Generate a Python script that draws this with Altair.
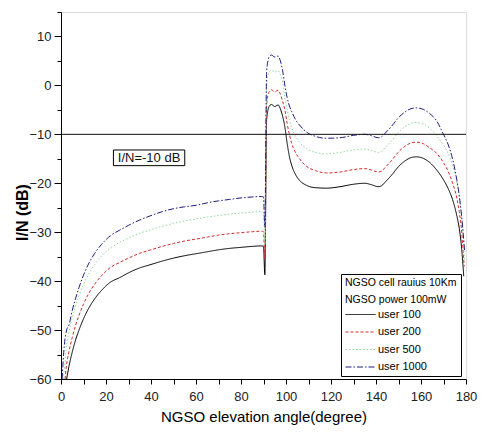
import altair as alt
import pandas as pd

series_names = ["user 100", "user 200", "user 500", "user 1000"]
colors = ["#000000", "#d42a2a", "#8fd99a", "#1c1c7a"]
dashes = [[1, 0], [3, 2], [1.5, 2], [6, 2, 1.5, 2]]

ang_100 = [2.5, 3.5, 5, 6.5, 8, 10, 12, 15, 18, 22, 26, 30, 35, 40, 45, 50, 55, 60, 65, 70, 75, 80, 85, 89, 90,
           90.6, 91.4, 92.5, 93.5, 95, 96.5, 97.5, 98.5, 99.5, 100.5, 101.5, 102.5, 104, 106, 109, 113, 118, 124,
           130, 135, 138, 141, 142.5, 144, 147, 150, 153, 156, 158, 161, 164, 167, 170, 172, 174, 176, 177, 178,
           178.5, 179]
val_100 = [-60, -57.5, -54.5, -52, -50, -47.7, -45.8, -43.6, -41.9, -40.2, -39.3, -38.3, -37.3, -36.6, -35.9,
           -35.3, -34.8, -34.4, -34.0, -33.6, -33.3, -33.1, -32.9, -32.8, -32.9,
           -38.7, -7, -4.3, -3.9, -4.3, -4.0, -4.8, -6.3, -8.5, -11.8, -14.5, -16.3, -18.0, -19.4, -20.4, -20.9,
           -21.0, -20.7, -20.2, -20.0, -20.3, -20.7, -20.5, -19.8, -18.3, -16.6, -15.4, -14.7, -14.6, -14.9,
           -15.8, -17.3, -19.3, -21.0, -23.3, -26.8, -29.2, -33.0, -35.8, -39.0]

ang_200 = [1.8, 2.5, 3.5, 5, 6.5, 8, 10, 12, 15, 18, 22, 26, 30, 35, 40, 45, 50, 55, 60, 65, 70, 75, 80, 85, 89, 90,
           90.6, 91.4, 92.5, 93.5, 95, 96.5, 97.5, 98.5, 99.5, 100.5, 101.5, 102.5, 104, 106, 109, 113, 118, 124,
           130, 135, 138, 141, 142.5, 144, 147, 150, 153, 156, 158, 161, 164, 167, 170, 172, 174, 176, 177, 178,
           178.6, 179.2]
val_200 = [-60, -57, -54.5, -51.5, -49, -47, -44.7, -42.8, -40.6, -38.9, -37.2, -36.2, -35.3, -34.3, -33.6, -32.9,
           -32.3, -31.8, -31.4, -31.0, -30.6, -30.3, -30.1, -29.9, -29.8, -29.9,
           -35.5, -4, -1.3, -0.9, -1.3, -1.0, -1.8, -3.3, -5.0, -7.8, -10.0, -11.8, -13.5, -15.0, -16.5, -17.4,
           -17.9, -17.7, -17.2, -17.0, -17.3, -17.7, -17.5, -16.8, -15.3, -13.6, -12.4, -11.7, -11.6, -11.9,
           -12.8, -13.9, -15.8, -17.5, -19.9, -23.2, -25.8, -29.5, -33.0, -37.0]

ang_500 = [1.0, 1.5, 2.5, 3.5, 5, 6.5, 8, 10, 12, 15, 18, 22, 26, 30, 35, 40, 45, 50, 55, 60, 65, 70, 75, 80, 85, 89,
           90, 90.6, 91.4, 92.5, 93.5, 95, 96.5, 97.5, 98.5, 99.5, 100.5, 101.5, 102.5, 104, 106, 109, 113, 118,
           124, 130, 135, 138, 141, 142.5, 144, 147, 150, 153, 156, 158, 161, 164, 167, 170, 172, 174, 176, 177,
           178, 178.7, 179.3]
val_500 = [-60, -58, -53, -50.5, -47.5, -45, -43, -40.7, -38.8, -36.6, -34.9, -33.2, -32.1, -31.2, -30.2, -29.5,
           -28.8, -28.2, -27.7, -27.3, -26.9, -26.6, -26.3, -26.1, -25.9, -25.8, -25.9,
           -32.5, 0, 2.7, 3.1, 2.7, 3.0, 2.2, 0.7, -2.5, -5.0, -7.0, -8.6, -10.2, -11.6, -12.9, -13.7, -14.0,
           -13.7, -13.2, -13.0, -13.3, -13.7, -13.5, -12.8, -11.3, -9.6, -8.4, -7.7, -7.6, -7.9, -8.8, -10.3,
           -12.2, -13.8, -16.3, -20.0, -22.5, -26.5, -30.5, -35.5]

ang_1000 = [0.5, 1.0, 1.5, 2.5, 3.5, 5, 6.5, 8, 10, 12, 15, 18, 22, 26, 30, 35, 40, 45, 50, 55, 60, 65, 70, 75, 80,
            85, 89, 90, 90.6, 91.4, 92.5, 93.5, 95, 96.5, 97.5, 98.5, 99.5, 100.5, 101.5, 102.5, 104, 106, 109, 113,
            118, 124, 130, 135, 138, 141, 142.5, 144, 147, 150, 153, 156, 158, 161, 164, 167, 170, 172, 174, 176,
            177, 178, 178.8, 179.4]
val_1000 = [-60, -56, -53, -50, -49, -46, -43.5, -41.3, -38.8, -36.7, -34.3, -32.5, -30.7, -29.6, -28.6, -27.5,
            -26.6, -25.8, -25.2, -24.8, -24.5, -24.0, -23.6, -23.3, -23.0, -22.8, -22.7, -22.8,
            -29, 3, 5.8, 6.2, 5.8, 6.0, 5.0, 3.0, 0.0, -2.5, -4.2, -5.3, -6.8, -8.1, -9.5, -10.4, -10.8, -10.7,
            -10.2, -10.0, -10.3, -10.7, -10.5, -9.8, -8.3, -6.6, -5.4, -4.7, -4.6, -4.9, -5.8, -7.3, -10.0, -12.0,
            -15.0, -19.5, -22.5, -26.5, -30.5, -34.0]

threshold = [-10]
note_text = ["I/N=-10 dB"]
note_box_x = [23.3, 55.0]
note_box_y = [-13.2, -16.4]

rows = []
for name, angs, vals in [("user 100", ang_100, val_100), ("user 200", ang_200, val_200),
                         ("user 500", ang_500, val_500), ("user 1000", ang_1000, val_1000)]:
    for a, v in zip(angs, vals):
        rows.append({"angle": a, "value": v, "series": name})
df = pd.DataFrame(rows)

FONT = "Liberation Sans"
xscale = alt.Scale(domain=[0, 180], nice=False, zero=False)
yscale = alt.Scale(domain=[-60, 15], nice=False, zero=False)

x_axis = alt.Axis(
    values=list(range(0, 181, 10)),
    labelExpr="datum.value % 20 === 0 ? datum.label : ''",
    labelFlush=False, labelOverlap=False,
    tickSize=5, labelPadding=6, labelFont=FONT, labelFontSize=13, labelColor="#222",
    domainColor="#000", tickColor="#000", grid=False,
    title="NGSO elevation angle(degree)", titleFont=FONT, titleFontSize=15,
    titleFontWeight="normal", titleColor="#000", titlePadding=6)
y_axis = alt.Axis(
    values=list(range(-60, 16, 5)),
    labelExpr="datum.value % 10 === 0 ? datum.label : ''",
    labelFlush=False, labelOverlap=False,
    tickSize={"condition": {"test": "datum.value % 10 === 0", "value": 7}, "value": 4},
    labelPadding=3, labelFont=FONT, labelFontSize=13, labelColor="#222",
    domainColor="#000", tickColor="#000", grid=False,
    title="I/N (dB)", titleFont=FONT, titleFontSize=16, titleFontWeight="bold",
    titleColor="#000", titleX=-34, titleY=200, titleAngle=270,
    titleBaseline="alphabetic", titleAlign="center")

legend = alt.Legend(
    orient="none", legendX=280, legendY=262,
    title=["NGSO cell rauius 10Km", "NGSO power 100mW"],
    titleFont=FONT, titleFontSize=10.5, titleFontWeight="normal", titleColor="#000",
    titleLineHeight=16.5, titlePadding=4, titleLimit=300,
    labelFont=FONT, labelFontSize=11, labelColor="#000",
    symbolType="M-1,0H5", symbolSize=100, symbolStrokeWidth=1,
    labelOffset=22, rowPadding=5.5, padding=4,
    strokeColor="#000", fillColor="#fff",
)

X = alt.X("angle:Q", scale=xscale, axis=x_axis)
Y = alt.Y("value:Q", scale=yscale, axis=y_axis)

lines = alt.Chart(df).mark_line(strokeWidth=1, clip=True, interpolate="monotone").encode(
    x=X, y=Y,
    color=alt.Color("series:N", scale=alt.Scale(domain=series_names, range=colors), legend=legend),
    strokeDash=alt.StrokeDash("series:N", scale=alt.Scale(domain=series_names, range=dashes), legend=legend),
    detail="series:N",
)

rule = alt.Chart(pd.DataFrame({"value": threshold})).mark_rule(color="#111", strokeWidth=1).encode(y=Y)

box = alt.Chart(pd.DataFrame({"angle": [note_box_x[0]], "a2": [note_box_x[1]],
                              "value": [note_box_y[0]], "v2": [note_box_y[1]]})).mark_rect(
    fill="#fff", stroke="#000", strokeWidth=1).encode(x=X, x2="a2:Q", y=Y, y2="v2:Q")

note = alt.Chart(pd.DataFrame({"angle": [(note_box_x[0] + note_box_x[1]) / 2],
                               "value": [(note_box_y[0] + note_box_y[1]) / 2],
                               "t": note_text})).mark_text(
    font=FONT, fontSize=13, color="#111", baseline="middle", align="center").encode(
    x=X, y=Y, text="t:N")

chart = alt.layer(lines, rule, box, note).properties(
    width=405, height=367,
    padding={"left": 53, "top": 4, "right": 12, "bottom": 50},
    autosize="none",
).configure_view(stroke="#000", strokeWidth=1).configure(background="#fff")

chart.save("out.html", embed_options={"renderer": "svg", "actions": False})
